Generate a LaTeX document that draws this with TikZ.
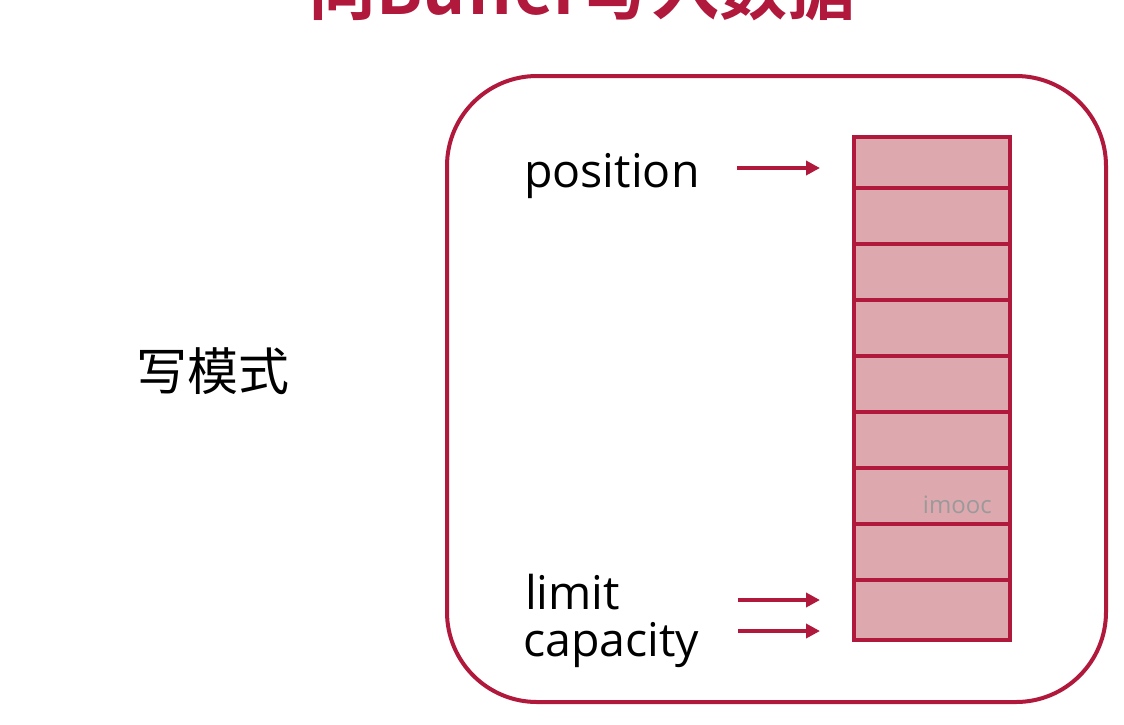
\documentclass[tikz,border=0pt]{standalone}
\usepackage{fontspec}
\setmainfont{Open Sans}
\newfontfamily\cjk{Noto Sans CJK SC}
\newfontfamily\cjkbold{Noto Sans CJK SC Bold}
\usetikzlibrary{arrows.meta}
\definecolor{crim}{HTML}{B0183C}
\definecolor{cellfill}{HTML}{DDA9AF}
\definecolor{wm}{HTML}{9A9A9A}
\tikzset{
  cellbox/.style={draw=crim, fill=cellfill, line width=4pt},
  ptr/.style={draw=crim, line width=4pt, -{Triangle[length=14pt,width=14pt]}},
  lbl/.style={inner sep=0pt, anchor=base west, font=\fontsize{46.5}{54}\selectfont},
}
\begin{document}
\begin{tikzpicture}[x=1pt,y=-1pt]
\useasboundingbox (0,0) rectangle (1124,724);
\fill[white] (0,0) rectangle (1124,724);
\begin{scope}
\clip (0,0) rectangle (1124,724);
\node[inner sep=0pt, anchor=base, text=crim, font=\cjkbold\fontsize{68}{70}\selectfont] (title) at (582,14) {向Buffer写入数据};
\end{scope}
\draw[crim, line width=4pt, rounded corners=90pt] (447,76) rectangle (1106,702);
\node[inner sep=0pt, anchor=west, font=\cjk\fontsize{51}{58}\selectfont] (mode) at (136,371) {写模式};
% buffer cells
\foreach \i/\a/\b in {1/137/188,2/188/244,3/244/300,4/300/356,5/356/412,6/412/468,7/468/524,8/524/580,9/580/640}{
  \path[cellbox] (854,\a) rectangle (1010,\b);
  \coordinate (c\i) at (854,{(\a+\b)/2});
}
\draw[crim, line width=4.5pt] (854,137) rectangle (1010,640);
\node[inner sep=0pt, anchor=base east, text=wm, font=\fontsize{24}{28}\selectfont] (imooc) at (992,513) {imooc};
\node[lbl] (pos) at (524,187) {position};
\node[lbl] (lim) at (525,609) {limit};
\node[lbl] (cap) at (523,656) {capacity};
\coordinate (p1) at (737,168); \coordinate (p2) at (820,168);
\coordinate (l1) at (738,600); \coordinate (l2) at (820,600);
\coordinate (k1) at (738,631); \coordinate (k2) at (820,631);
\draw[ptr] (p1) -- (p2);
\draw[ptr] (l1) -- (l2);
\draw[ptr] (k1) -- (k2);
\end{tikzpicture}
\end{document}
